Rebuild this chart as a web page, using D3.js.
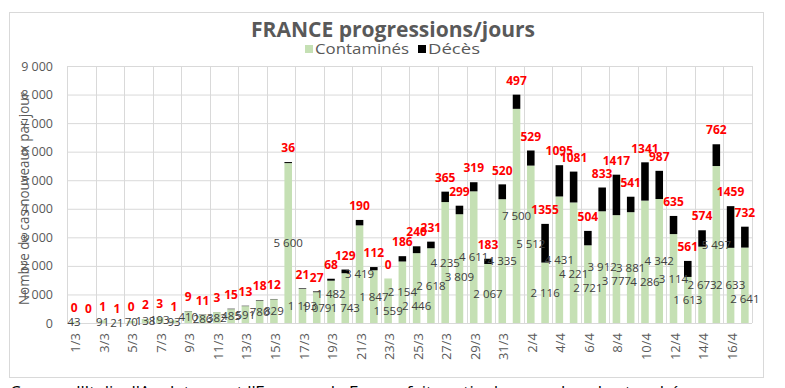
<!DOCTYPE html>
<html>
<head>
<meta charset="utf-8">
<script src="https://cdn.jsdelivr.net/npm/d3@7"></script>
<style>
  body { margin: 0; background: #fff; }
  svg { display: block; font-family: "Open Sans", sans-serif; }
</style>
</head>
<body>
<svg id="chart" width="785" height="388"></svg>
<script>
// jours (1/3 -> 17/4)
const dates = ["1/3","2/3","3/3","4/3","5/3","6/3","7/3","8/3","9/3","10/3","11/3","12/3","13/3","14/3","15/3","16/3",
  "17/3","18/3","19/3","20/3","21/3","22/3","23/3","24/3","25/3","26/3","27/3","28/3","29/3","30/3","31/3",
  "1/4","2/4","3/4","4/4","5/4","6/4","7/4","8/4","9/4","10/4","11/4","12/4","13/4","14/4","15/4","16/4","17/4"]

const contamines = [43, 0, 91, 21, 70, 138, 193, 93, 410, 286, 382, 485, 591, 780, 829, 5600,
  1193, 1079, 1482, 1743, 3419, 1847, 1559, 2154, 2446, 2618, 4235, 3809, 4611, 2067, 4335,
  7500, 5512, 2116, 4431, 4221, 2721, 3912, 3777, 3881, 4286, 4342, 3114, 1613, 2673, 5497, 2633, 2641]

const deces = [0, 0, 1, 1, 0, 2, 3, 1, 9, 11, 3, 15, 13, 18, 12, 36,
  21, 27, 68, 129, 190, 112, 0, 186, 240, 231, 365, 299, 319, 183, 520,
  497, 529, 1355, 1095, 1081, 504, 833, 1417, 541, 1341, 987, 635, 561, 574, 762, 1459, 732]

const yTicks = [0, 1000, 2000, 3000, 4000, 5000, 6000, 7000, 8000, 9000]

const svg = d3.select("#chart")
const margin = {top: 66, right: 33, bottom: 65, left: 67}
const width = 785, height = 388

const fr = d3.formatLocale({decimal: ",", thousands: "\u00a0", grouping: [3], currency: ["", "€"]})
const fmt = fr.format(",d")

const x = d3.scaleBand().domain(dates)
    .range([margin.left, width - margin.right])
    .paddingInner(0.47).paddingOuter(0.235)
const y = d3.scaleLinear().domain([0, 9000]).range([height - margin.bottom, margin.top])

svg.append("rect").attr("width", width).attr("height", height).attr("fill", "#fff")
// chart frame
svg.append("rect")
    .attr("x", 9.5).attr("y", 12.5).attr("width", 754).attr("height", 365)
    .attr("fill", "none").attr("stroke", "#d9d9d9")

// horizontal grid
svg.append("g")
    .attr("transform", `translate(${margin.left},0)`)
    .call(d3.axisLeft(y).tickValues(yTicks).tickSize(-(width - margin.left - margin.right)).tickFormat(""))
    .call(g => g.select(".domain").remove())
    .call(g => g.selectAll("line").attr("stroke", "#d9d9d9"))

// vertical grid, every 2 days
const gap = (x.step() - x.bandwidth()) / 2
const vx = dates.filter((d, i) => i % 2 === 0).map(d => x(d) - gap)
vx.push(width - margin.right)
svg.append("g").selectAll("line")
    .data(vx).join("line")
    .attr("x1", d => Math.round(d) + 0.5).attr("x2", d => Math.round(d) + 0.5)
    .attr("y1", y(9000)).attr("y2", y(0))
    .attr("stroke", "#d9d9d9")

// y axis labels
svg.append("g")
    .attr("transform", `translate(${margin.left},0)`)
    .call(d3.axisLeft(y).tickValues(yTicks).tickSize(0).tickPadding(14).tickFormat(fmt))
    .call(g => g.select(".domain").remove())
    .call(g => g.selectAll("text").attr("fill", "#595959").style("font-size", "12.5px").style("font-family", "Open Sans"))

// x axis labels
svg.append("g")
    .attr("transform", `translate(0,${y(0)})`)
    .call(d3.axisBottom(x).tickValues(dates.filter((d, i) => i % 2 === 0)).tickSize(0))
    .call(g => g.select(".domain").remove())
    .call(g => g.selectAll("text")
        .attr("fill", "#595959").style("font-size", "13px").style("font-family", "Open Sans")
        .attr("x", -10).attr("y", 1.5).attr("dy", "0.35em")
        .attr("transform", "rotate(-90)").style("text-anchor", "end"))

// stacked bars
const rows = dates.map((d, i) => ({date: d, c: contamines[i], m: deces[i]}))

svg.append("g").selectAll("rect")
    .data(rows).join("rect")
    .attr("x", d => x(d.date)).attr("width", x.bandwidth())
    .attr("y", d => y(d.c)).attr("height", d => y(0) - y(d.c))
    .attr("fill", "#c5e0b4")

svg.append("g").selectAll("rect")
    .data(rows).join("rect")
    .attr("x", d => x(d.date)).attr("width", x.bandwidth())
    .attr("y", d => y(d.c + d.m)).attr("height", d => y(d.c) - y(d.c + d.m))
    .attr("fill", "#000")

// data labels (contaminés) : centre du segment vert, décalés quand ils se chevauchent
const cLabels = svg.append("g").selectAll("text")
    .data(rows.filter(d => d.c > 0)).join("text")
    .attr("x", d => x(d.date) + x.bandwidth() / 2)
    .attr("y", d => y(d.c / 2))
    .attr("dy", "0.35em")
    .attr("text-anchor", "middle")
    .attr("fill", "#404040")
    .style("font-size", "11.5px")
    .text(d => fmt(d.c))

let prev = null
cLabels.each(function(d) {
  const el = d3.select(this)
  const w = this.getComputedTextLength()
  const cx = +el.attr("x")
  let cy = +el.attr("y")
  const barH = y(0) - y(d.c)
  if (prev && barH > 40 && cx - w / 2 < prev.x1 && Math.abs(cy - prev.y) < 13) {
    let ny = prev.y + 14
    if (ny > y(0) - 8) ny = prev.y - 14
    cy = ny
    el.attr("y", cy)
  }
  prev = {x1: cx + w / 2, y: cy}
})

svg.append("g").selectAll("text")
    .data(rows).join("text")
    .attr("x", d => x(d.date) + x.bandwidth() / 2)
    .attr("y", d => y(d.c + d.m) - 14)
    .attr("dy", "0.35em")
    .attr("text-anchor", "middle")
    .attr("fill", "#ff0000")
    .style("font-size", "12px")
    .style("font-weight", "bold")
    .text(d => d.m)

// axis title
svg.append("text")
    .attr("transform", `translate(24,${(92 + 305) / 2}) rotate(-90)`)
    .attr("text-anchor", "middle").attr("dy", "0.35em")
    .attr("fill", "#595959").style("font-size", "14px")
    .attr("textLength", 213).attr("lengthAdjust", "spacingAndGlyphs")
    .text("Nombre de cas nouveaux par jour")

// title
svg.append("text")
    .attr("x", 393).attr("y", 37)
    .attr("text-anchor", "middle")
    .attr("fill", "#595959").style("font-size", "21px").style("font-weight", "bold")
    .attr("textLength", 284).attr("lengthAdjust", "spacingAndGlyphs")
    .text("FRANCE progressions/jours")

// legend
const legend = [
  {label: "Contaminés", color: "#c5e0b4", x: 305, w: 94},
  {label: "Décès", color: "#000", x: 418, w: 52}
]
const lg = svg.append("g").selectAll("g").data(legend).join("g")
    .attr("transform", d => `translate(${d.x},49)`)
lg.append("rect").attr("x", 0).attr("y", -4).attr("width", 8).attr("height", 8).attr("fill", d => d.color)
lg.append("text").attr("x", 10).attr("dy", "0.35em")
    .attr("fill", "#595959").style("font-size", "14px")
    .attr("textLength", d => d.w).attr("lengthAdjust", "spacingAndGlyphs")
    .text(d => d.label)

// texte sous le graphique (coupé par le bas de l'image)
svg.append("text")
    .attr("x", 10).attr("y", 398)
    .attr("fill", "#000").style("font-size", "17px")
    .text("Comme l'Italie, l'Angleterre et l'Espagne, la France fait partie des pays les plus touchés")
</script>
</body>
</html>
